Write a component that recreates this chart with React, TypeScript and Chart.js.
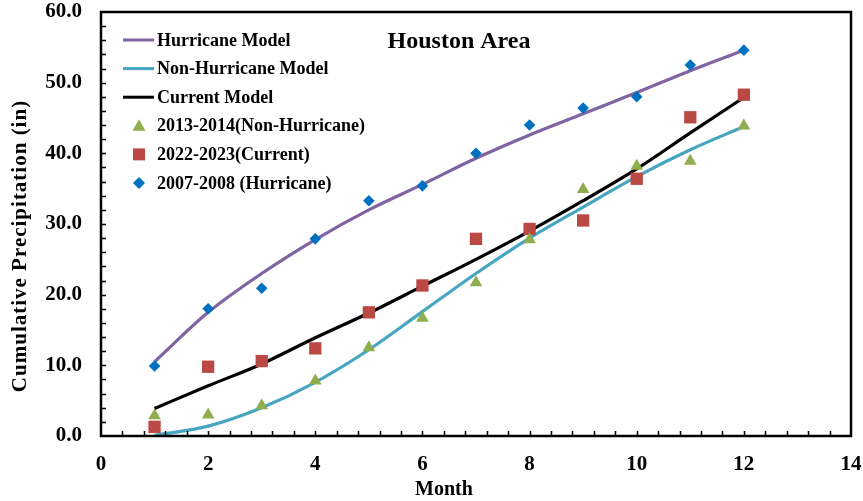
import React, { useEffect, useRef } from "react";
import { Chart, registerables } from "chart.js";

Chart.register(...registerables);

const months = [1, 2, 3, 4, 5, 6, 7, 8, 9, 10, 11, 12];
const hurricaneObs = [9.9, 18.0, 20.9, 27.9, 33.3, 35.4, 40.0, 44.0, 46.4, 48.0, 52.5, 54.6];
const currentObs = [1.3, 9.8, 10.6, 12.4, 17.5, 21.3, 27.9, 29.3, 30.5, 36.4, 45.1, 48.3];
const nonHurricaneObs = [2.9, 3.0, 4.3, 7.8, 12.5, 16.7, 21.7, 27.8, 34.9, 38.2, 38.9, 43.9];
const hurricaneModel = [10.5, 17.5, 23.0, 27.8, 32.0, 35.6, 39.3, 42.6, 45.6, 48.6, 51.7, 54.6];
const nonHurricaneModel = [0.1, 1.4, 4.0, 7.6, 12.2, 17.6, 23.0, 28.0, 32.4, 36.7, 40.5, 43.8];
const currentModel = [3.9, 7.1, 10.2, 13.9, 17.4, 21.2, 25.0, 29.0, 33.3, 37.8, 42.9, 47.9];
const xTicks = [0, 2, 4, 6, 8, 10, 12, 14];
const yTicks = [0, 10, 20, 30, 40, 50, 60];

const FONT = "'Liberation Serif', 'Times New Roman', serif";
const PURPLE = "#8064A2";
const CYAN = "#46A6C1";
const BLACK = "#000000";
const GREEN = "#8FAE4F";
const RED = "#BA4843";
const BLUE = "#0070C0";

const legendItems = [
  { label: "Hurricane Model", kind: "line", color: PURPLE },
  { label: "Non-Hurricane Model", kind: "line", color: CYAN },
  { label: "Current Model", kind: "line", color: BLACK },
  { label: "2013-2014(Non-Hurricane)", kind: "triangle", color: GREEN },
  { label: "2022-2023(Current)", kind: "rect", color: RED },
  { label: "2007-2008 (Hurricane)", kind: "rectRot", color: BLUE },
];

const pts = (ys: number[]) => months.map((m, i) => ({ x: m, y: ys[i] }));

const decorPlugin = {
  id: "decor",
  afterDraw(chart: any) {
    const { ctx, chartArea, scales } = chart;
    const xs = scales.x;
    const ys = scales.y;
    ctx.save();
    // inner ticks
    ctx.strokeStyle = "#000";
    ctx.lineWidth = 1.5;
    ctx.beginPath();
    for (let i = 1; i < 35; i++) {
      const v = i * 0.4;
      const px = Math.round(xs.getPixelForValue(v)) + 0.5;
      ctx.moveTo(px, chartArea.bottom);
      ctx.lineTo(px, chartArea.bottom - 5);
    }
    for (let i = 1; i < 30; i++) {
      const v = i * 2;
      const py = Math.round(ys.getPixelForValue(v)) + 0.5;
      ctx.moveTo(chartArea.left, py);
      ctx.lineTo(chartArea.left + 5, py);
    }
    ctx.stroke();
    // box
    ctx.lineWidth = 2.5;
    ctx.strokeRect(chartArea.left, chartArea.top, chartArea.right - chartArea.left, chartArea.bottom - chartArea.top);

    // title
    ctx.fillStyle = "#000";
    ctx.font = `bold 24px ${FONT}`;
    ctx.textAlign = "center";
    ctx.textBaseline = "middle";
    ctx.fillText("Houston Area", 459, 42);

    // axis titles
    ctx.font = `bold 20px ${FONT}`;
    ctx.fillText("Month", 444, 490);
    ctx.save();
    ctx.translate(21, 246);
    ctx.rotate(-Math.PI / 2);
    ctx.font = `bold 21px ${FONT}`;
    try {
      ctx.letterSpacing = "1px";
    } catch (e) {}
    ctx.fillText("Cumulative Precipitation (in)", 0, 0);
    ctx.restore();

    // legend
    ctx.font = `bold 18px ${FONT}`;
    ctx.textAlign = "left";
    legendItems.forEach((it, i) => {
      const cy = 40 + i * 28.6;
      const cx = 139;
      ctx.fillStyle = it.color;
      ctx.strokeStyle = it.color;
      if (it.kind === "line") {
        ctx.lineWidth = 3;
        ctx.beginPath();
        ctx.moveTo(123, cy);
        ctx.lineTo(154, cy);
        ctx.stroke();
      } else if (it.kind === "triangle") {
        ctx.beginPath();
        ctx.moveTo(cx, cy - 6.5);
        ctx.lineTo(cx + 6.5, cy + 5);
        ctx.lineTo(cx - 6.5, cy + 5);
        ctx.closePath();
        ctx.fill();
      } else if (it.kind === "rect") {
        ctx.fillRect(cx - 6, cy - 6, 12, 12);
      } else {
        ctx.beginPath();
        ctx.moveTo(cx, cy - 6);
        ctx.lineTo(cx + 6, cy);
        ctx.lineTo(cx, cy + 6);
        ctx.lineTo(cx - 6, cy);
        ctx.closePath();
        ctx.fill();
      }
      ctx.fillStyle = "#000";
      ctx.fillText(it.label, 157, cy + 1);
    });
    ctx.restore();
  },
};

export default function App() {
  const ref = useRef<HTMLCanvasElement>(null);
  useEffect(() => {
    if (!ref.current) return;
    const lineDs = (label: string, data: number[], color: string) => ({
      type: "line" as const,
      label,
      data: pts(data),
      borderColor: color,
      backgroundColor: color,
      borderWidth: 3.2,
      pointRadius: 0,
      cubicInterpolationMode: "monotone" as const,
      showLine: true,
      order: 2,
    });
    const markDs = (label: string, data: number[], color: string, style: string, r: number) => ({
      type: "line" as const,
      label,
      data: pts(data),
      borderColor: color,
      backgroundColor: color,
      pointStyle: style,
      pointRadius: r,
      pointBorderWidth: 0,
      showLine: false,
      order: 1,
    });
    const chart = new Chart(ref.current, {
      type: "line",
      data: {
        datasets: [
          lineDs("Hurricane Model", hurricaneModel, PURPLE),
          lineDs("Non-Hurricane Model", nonHurricaneModel, CYAN),
          lineDs("Current Model", currentModel, BLACK),
          markDs("2013-2014(Non-Hurricane)", nonHurricaneObs, GREEN, "triangle", 7.3),
          markDs("2022-2023(Current)", currentObs, RED, "rect", 8.7),
          markDs("2007-2008 (Hurricane)", hurricaneObs, BLUE, "rectRot", 5.8),
        ] as any,
      },
      options: {
        animation: false,
        responsive: false,
        maintainAspectRatio: false,
        layout: { padding: { left: 0, right: 12, top: 12, bottom: 0 } },
        plugins: { legend: { display: false }, tooltip: { enabled: false } },
        scales: {
          x: {
            type: "linear",
            min: 0,
            max: 14,
            afterBuildTicks: (s: any) => {
              s.ticks = xTicks.map((v) => ({ value: v }));
            },
            afterFit: (s: any) => {
              s.height = 65;
              s.paddingLeft = 0;
              s.paddingRight = 0;
            },
            grid: { display: false, drawTicks: false },
            border: { display: false },
            ticks: {
              padding: 16,
              color: "#000",
              font: { family: FONT, size: 21, weight: "bold" },
              callback: (v: any) => String(v),
            },
          },
          y: {
            type: "linear",
            min: 0,
            max: 60,
            afterBuildTicks: (s: any) => {
              s.ticks = yTicks.map((v) => ({ value: v }));
            },
            afterFit: (s: any) => {
              s.width = 101;
              s.paddingTop = 0;
              s.paddingBottom = 0;
            },
            grid: { display: false, drawTicks: false },
            border: { display: false },
            ticks: {
              padding: 19,
              color: "#000",
              font: { family: FONT, size: 21, weight: "bold" },
              callback: (v: any) => Number(v).toFixed(1),
            },
          },
        },
      } as any,
      plugins: [decorPlugin],
    });
    return () => chart.destroy();
  }, []);
  return (
    <div style={{ position: "fixed", left: 0, top: 0, width: 863, height: 501, background: "#fff" }}>
      <canvas ref={ref} width={863} height={501} style={{ width: 863, height: 501, display: "block" }} />
    </div>
  );
}
